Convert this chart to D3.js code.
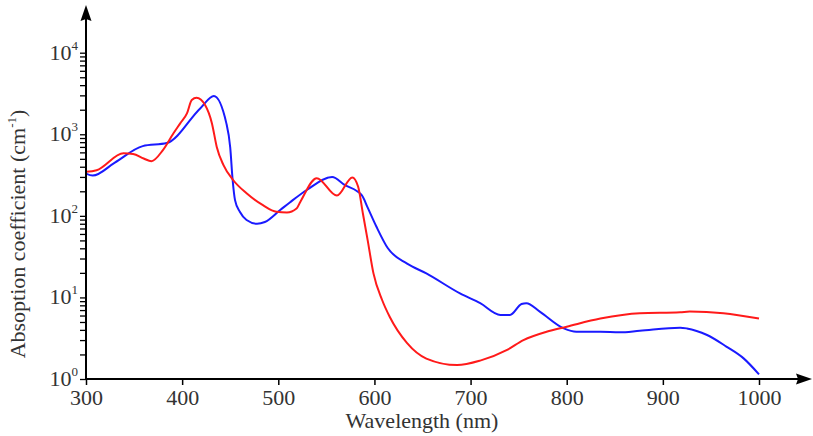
<!DOCTYPE html>
<html><head><meta charset="utf-8">
<script src="https://cdn.jsdelivr.net/npm/d3@7"></script>
<style>body{margin:0;background:#fff}svg{display:block}text{font-family:"Liberation Serif","DejaVu Serif",serif;fill:#333}</style>
</head><body><svg id="c" width="813" height="436"></svg>
<script>
const xTicks = [300,400,500,600,700,800,900,1000];
const yExponents = [0,1,2,3,4];
const blueWl  = [300,307,330,359,384,419,433,446,450,452.5,455,460,467,478,486,502,512,530,556,569,587,593,602,614,634,654,689,710,731,741,753,758,772,797,810,835,855,876,918,925,946,966,984,1000];
const blueVal = [330,312,450,716,780,2090,2940,1360,690,277,156,112,89,80,84,118,146,209,299,240,178,126,74,40,26,19.7,11.2,8.5,6.1,6.1,8.3,8.5,6.7,4.17,3.8,3.8,3.73,3.9,4.26,4.17,3.46,2.5,1.79,1.14];
const redWl   = [300,311,339,349,360,368,380,391,398,405,410,415,424,431,436,443,453,467,484,498,509,519,523,540,561,577,583,588,593,599,608,616,634,654,686,710,738,755,779,800,835,876,918,928,963,1000];
const redVal  = [347,363,585,574,505,468,640,1030,1360,1800,2630,2800,2270,1360,700,418,275,189,135,112,110,123,149,290,177,296,229,107,50,19.7,9.3,5.75,2.75,1.78,1.48,1.68,2.27,3.0,3.8,4.37,5.5,6.4,6.57,6.7,6.4,5.5];
const xTitle = "Wavelength (nm)";
const yTitle = "Absoption coefficient (cm";

const svg = d3.select("#c");
const x = d3.scaleLinear().domain([300,1000]).range([86,759]);
const y = d3.scaleLog().domain([1,10000]).range([379,52.7]);

// curves
const line = d3.line().x(d=>x(d[0])).y(d=>y(d[1])).curve(d3.curveMonotoneX);
svg.append("path").datum(blueWl.map((w,i)=>[w,blueVal[i]])).attr("d",line)
  .attr("fill","none").attr("stroke","#1a1aff").attr("stroke-width",2);
svg.append("path").datum(redWl.map((w,i)=>[w,redVal[i]])).attr("d",line)
  .attr("fill","none").attr("stroke","#ff1a1a").attr("stroke-width",2);

// x axis
const xa = svg.append("g").attr("transform","translate(0,379)")
  .call(d3.axisBottom(x).tickValues(xTicks).tickSize(6).tickPadding(4).tickFormat(d3.format("d")));
xa.select(".domain").remove();
xa.selectAll("line").attr("stroke","#000").attr("stroke-width",1.5);
xa.selectAll("text").attr("font-size",22).attr("fill","#333").style("font-family","Liberation Serif");

// y axis minor + major ticks
const yMinor = [];
yExponents.slice(0,-1).forEach(e=>{for(let m=2;m<=9;m++) yMinor.push(m*Math.pow(10,e));});
const ya = svg.append("g").attr("transform","translate(86,0)")
  .call(d3.axisLeft(y).tickValues(yExponents.map(e=>Math.pow(10,e)).concat(yMinor)).tickSize(6).tickFormat(""));
ya.select(".domain").remove();
ya.selectAll("line").attr("stroke","#000").attr("stroke-width",1.3);

// y tick labels 10^n
const lab = svg.append("g");
yExponents.forEach(e=>{
  const t = lab.append("text").attr("x",78).attr("y",y(Math.pow(10,e))+7)
    .attr("text-anchor","end").attr("font-size",22);
  t.append("tspan").text("10");
  t.append("tspan").attr("dy",-10).attr("font-size",13).text(e);
});

// axis lines with arrows
svg.append("line").attr("x1",85).attr("x2",800).attr("y1",379).attr("y2",379).attr("stroke","#000").attr("stroke-width",2);
svg.append("line").attr("x1",86).attr("x2",86).attr("y1",380).attr("y2",14).attr("stroke","#000").attr("stroke-width",2);
svg.append("path").attr("d","M812,379 L796,373.5 L798,379 L796,384.5 Z").attr("fill","#000");
svg.append("path").attr("d","M86,5 L80.5,21 L86,19 L91.5,21 Z").attr("fill","#000");

// titles
svg.append("text").attr("x",422).attr("y",428).attr("text-anchor","middle").attr("font-size",22).text(xTitle);
const yt = svg.append("text").attr("transform","translate(25,234) rotate(-90)").attr("text-anchor","middle").attr("font-size",22);
yt.append("tspan").text(yTitle);
yt.append("tspan").attr("dy",-9).attr("font-size",13).text("-1");
yt.append("tspan").attr("dy",9).text(")");
</script></body></html>
